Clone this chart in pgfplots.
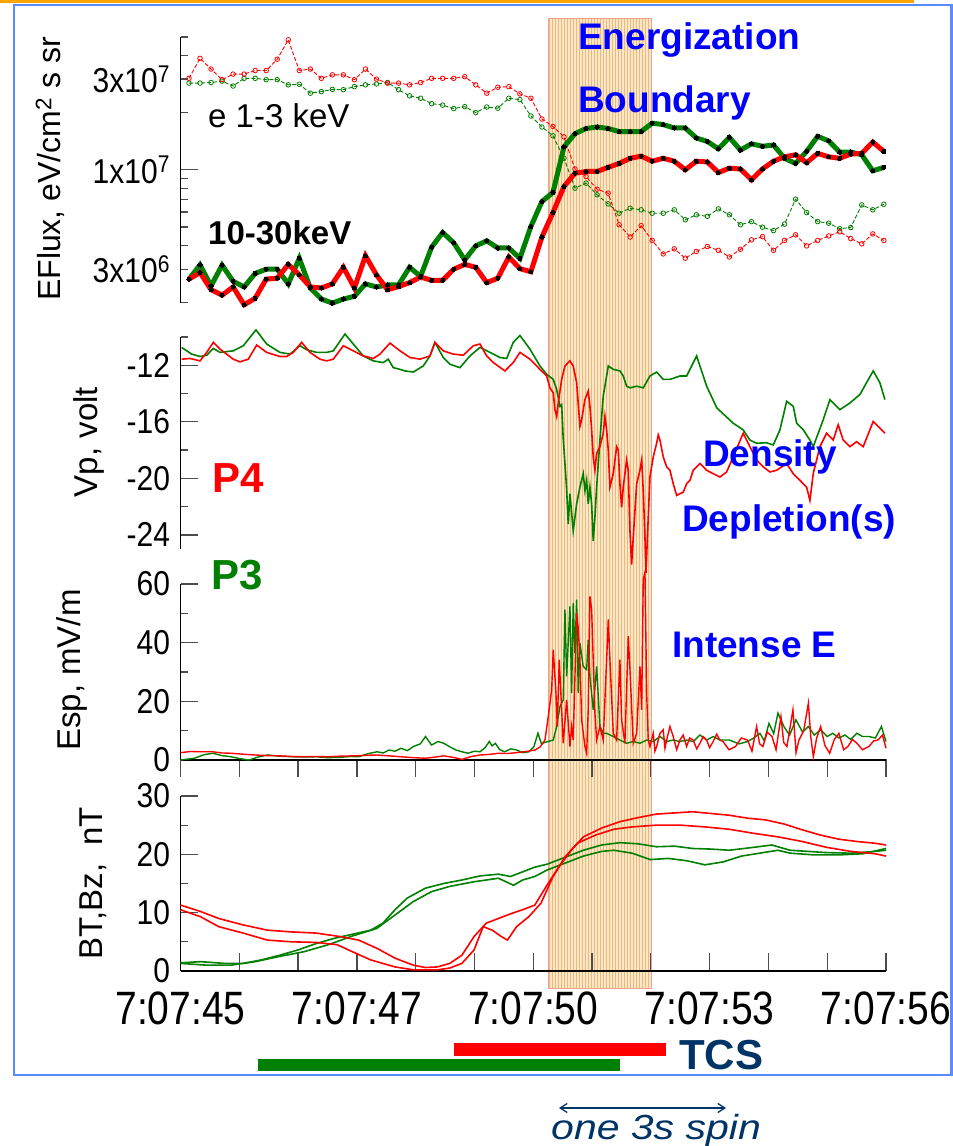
\documentclass[border=0pt]{standalone}
\usepackage{pgfplots}
\pgfplotsset{compat=1.18}
\usepackage{pgfplotstable}
\usepackage{fontspec}
\setmainfont{Liberation Sans}
\usetikzlibrary{arrows.meta,patterns}
\definecolor{pred}{RGB}{255,0,0}
\definecolor{pgreen}{RGB}{0,128,0}
\definecolor{eblue}{RGB}{0,0,255}
\definecolor{navy}{RGB}{0,51,102}
\definecolor{band}{RGB}{250,230,200}
\definecolor{bandline}{RGB}{236,186,120}
\definecolor{bandedge}{RGB}{240,160,140}
\definecolor{frameblue}{RGB}{90,140,255}
\definecolor{frameorange}{RGB}{255,165,0}
\newcommand{\tl}[1]{\scalebox{1}[1.15]{#1}}
\newcommand{\xl}[1]{\scalebox{1}[1.2]{#1}}

% EFlux, 64 samples: 10-30 keV (g1, r1) and 1-3 keV (g2, r2)
\pgfplotstableread{
i g1 r1 g2 r2
0 2.66e6 2.66e6 2.86e7 3.03e7
1 3.16e6 2.88e6 2.86e7 3.86e7
2 2.45e6 2.34e6 2.88e7 3.39e7
3 3.15e6 2.19e6 2.93e7 2.98e7
4 2.59e6 2.42e6 2.76e7 3.19e7
5 2.42e6 1.95e6 3.03e7 3.19e7
6 2.85e6 2.11e6 3.03e7 3.33e7
7 3.00e6 2.66e6 2.98e7 3.33e7
8 3.00e6 2.69e6 2.98e7 3.82e7
9 2.51e6 3.18e6 2.80e7 4.83e7
10 3.42e6 2.80e6 2.82e7 3.33e7
11 2.39e6 2.42e6 2.53e7 3.39e7
12 2.09e6 2.39e6 2.58e7 3.03e7
13 1.99e6 2.51e6 2.65e7 3.16e7
14 2.09e6 3.07e6 2.64e7 3.16e7
15 2.16e6 2.39e6 2.74e7 2.98e7
16 2.51e6 3.53e6 2.80e7 3.39e7
17 2.42e6 2.80e6 2.83e7 3.00e7
18 2.48e6 2.34e6 2.88e7 2.86e7
19 2.48e6 2.43e6 2.64e7 2.86e7
20 3.07e6 2.55e6 2.45e7 2.80e7
21 2.75e6 2.73e6 2.38e7 2.88e7
22 3.92e6 2.62e6 2.23e7 3.03e7
23 4.68e6 2.62e6 2.19e7 3.03e7
24 4.13e6 3.00e6 2.10e7 3.03e7
25 3.36e6 3.18e6 2.15e7 3.09e7
26 3.98e6 3.07e6 2.00e7 2.80e7
27 4.23e6 2.55e6 2.14e7 2.53e7
28 3.88e6 2.69e6 2.11e7 2.72e7
29 3.88e6 3.48e6 2.38e7 2.74e7
30 3.42e6 3.02e6 2.34e7 2.51e7
31 5.03e6 2.91e6 1.92e7 2.38e7
32 6.81e6 4.43e6 1.68e7 1.85e7
33 7.60e6 5.96e6 1.51e7 1.69e7
34 1.32e7 8.17e6 1.15e7 1.49e7
35 1.55e7 9.60e6 8.01e6 1.01e7
36 1.65e7 9.80e6 8.51e6 9.22e6
37 1.68e7 9.80e6 7.39e6 7.91e6
38 1.65e7 1.03e7 6.62e6 7.54e6
39 1.59e7 1.08e7 5.91e6 5.14e6
40 1.59e7 1.15e7 6.28e6 4.43e6
41 1.59e7 1.18e7 6.16e6 5.08e6
42 1.76e7 1.11e7 5.91e6 4.25e6
43 1.73e7 1.15e7 5.91e6 3.61e6
44 1.66e7 1.11e7 6.16e6 3.84e6
45 1.66e7 1.00e7 5.46e6 3.43e6
46 1.47e7 1.11e7 5.80e6 3.72e6
47 1.41e7 1.10e7 5.69e6 3.95e6
48 1.29e7 9.68e6 6.23e6 3.77e6
49 1.48e7 1.02e7 5.80e6 3.48e6
50 1.27e7 1.01e7 5.14e6 3.82e6
51 1.37e7 8.86e6 5.34e6 4.28e6
52 1.33e7 1.01e7 4.99e6 4.45e6
53 1.35e7 1.11e7 4.79e6 3.77e6
54 1.15e7 1.17e7 5.18e6 4.25e6
55 1.08e7 1.20e7 7.01e6 4.55e6
56 1.25e7 1.09e7 5.96e6 3.98e6
57 1.50e7 1.22e7 5.34e6 4.25e6
58 1.42e7 1.17e7 5.24e6 4.49e6
59 1.24e7 1.15e7 4.90e6 4.72e6
60 1.24e7 1.21e7 4.97e6 4.35e6
61 1.20e7 1.22e7 6.54e6 4.08e6
62 9.88e6 1.40e7 6.16e6 4.60e6
63 1.03e7 1.25e7 6.59e6 4.25e6
}\tabflux

\pgfplotstableread{
t v
0.020 -10.74
0.190 -11.21
0.332 -11.38
0.446 -11.29
0.558 -10.81
0.672 -11.09
0.898 -10.98
1.068 -10.62
1.284 -9.50
1.466 -10.50
1.692 -11.09
1.862 -11.21
2.032 -10.62
2.146 -10.90
2.316 -11.09
2.486 -11.09
2.599 -10.98
2.798 -9.79
2.939 -10.50
3.109 -11.34
3.279 -11.69
3.449 -11.81
3.534 -11.57
3.619 -12.17
3.733 -12.29
3.818 -12.40
3.959 -12.48
4.129 -12.05
4.243 -11.34
4.328 -10.38
4.469 -11.45
4.583 -11.93
4.753 -12.17
4.923 -11.34
5.094 -10.74
5.264 -11.09
5.434 -11.45
5.548 -11.52
5.660 -10.38
5.774 -9.90
5.944 -10.86
6.114 -12.05
6.228 -12.64
6.340 -13.00
6.398 -13.71
6.454 -14.90
6.483 -14.79
6.508 -17.05
6.566 -20.62
6.595 -23.24
6.624 -21.09
6.680 -23.71
6.738 -21.81
6.794 -20.62
6.850 -19.67
6.879 -20.86
6.908 -20.14
6.935 -21.81
6.964 -20.62
6.993 -21.81
7.020 -24.43
7.049 -22.76
7.078 -20.62
7.134 -17.29
7.190 -14.19
7.248 -12.76
7.276 -12.05
7.361 -12.29
7.474 -12.40
7.531 -12.76
7.588 -13.48
7.645 -13.60
7.759 -13.48
7.871 -13.60
7.985 -12.76
8.099 -12.48
8.211 -13.00
8.325 -13.00
8.495 -12.76
8.609 -12.76
8.779 -11.34
8.949 -13.48
9.122 -15.02
9.401 -16.10
9.571 -16.57
9.685 -17.29
9.799 -17.52
9.969 -17.48
10.082 -17.64
10.196 -16.57
10.310 -14.55
10.422 -14.90
10.480 -16.10
10.592 -16.57
10.706 -17.29
10.762 -17.76
10.932 -15.86
11.046 -14.43
11.216 -15.14
11.386 -14.67
11.556 -14.07
11.782 -12.40
11.896 -13.24
11.981 -14.43
}\tabvpg

\pgfplotstableread{
t v
0.020 -11.57
0.162 -11.52
0.332 -11.69
0.446 -11.09
0.558 -10.38
0.672 -10.86
0.898 -11.57
1.012 -11.76
1.153 -11.57
1.296 -10.57
1.466 -11.09
1.692 -11.38
1.806 -11.38
1.918 -11.09
2.061 -10.38
2.202 -11.09
2.372 -11.57
2.486 -11.69
2.599 -11.57
2.769 -10.62
2.939 -10.98
3.109 -11.34
3.279 -11.52
3.393 -11.21
3.563 -10.43
3.733 -10.98
3.903 -11.45
4.073 -11.57
4.243 -11.34
4.328 -10.38
4.469 -10.98
4.639 -11.21
4.810 -11.29
4.980 -10.62
5.094 -10.50
5.207 -11.34
5.320 -11.81
5.519 -12.40
5.660 -11.81
5.774 -11.09
5.944 -11.57
6.114 -12.29
6.228 -12.76
6.284 -13.60
6.340 -13.95
6.369 -15.14
6.398 -15.62
6.425 -14.67
6.483 -13.00
6.539 -12.05
6.624 -11.69
6.680 -12.05
6.738 -13.24
6.794 -16.33
6.823 -15.86
6.879 -14.43
6.935 -13.83
6.964 -14.90
6.993 -16.57
7.020 -18.48
7.049 -19.43
7.078 -18.24
7.134 -17.76
7.190 -16.81
7.219 -15.62
7.248 -16.57
7.276 -18.00
7.304 -20.62
7.361 -19.67
7.418 -17.76
7.446 -18.00
7.474 -20.38
7.503 -22.05
7.531 -20.62
7.588 -18.71
7.616 -19.43
7.645 -23.71
7.673 -26.10
7.701 -24.19
7.759 -20.38
7.815 -19.43
7.844 -18.71
7.871 -20.86
7.900 -24.19
7.917 -26.69
7.956 -22.76
7.985 -19.91
8.041 -18.48
8.099 -17.52
8.126 -16.93
8.155 -17.29
8.211 -18.48
8.269 -19.19
8.325 -19.43
8.381 -20.38
8.439 -21.21
8.495 -21.09
8.551 -20.98
8.609 -20.38
8.665 -20.14
8.721 -19.43
8.835 -18.95
8.949 -19.43
9.061 -19.67
9.175 -19.91
9.289 -19.55
9.401 -18.48
9.571 -16.81
9.685 -17.76
9.799 -18.71
9.912 -19.19
10.026 -19.55
10.139 -19.43
10.310 -18.95
10.422 -19.67
10.536 -20.14
10.650 -20.62
10.706 -21.57
10.762 -19.67
10.876 -17.76
10.990 -16.81
11.102 -17.29
11.187 -16.21
11.272 -17.29
11.386 -17.76
11.500 -17.41
11.612 -17.76
11.782 -15.98
11.896 -16.45
11.981 -16.81
}\tabvpr

\pgfplotstableread{
t v
0.000 0.0
0.238 0.6
0.400 1.8
0.549 2.3
0.700 1.5
0.859 1.1
1.000 0.5
1.165 0.0
1.320 1.0
1.480 1.7
1.700 1.3
1.893 1.1
2.100 1.0
2.304 1.1
2.500 0.8
2.713 0.9
2.900 1.2
3.031 1.1
3.200 2.2
3.342 2.8
3.450 2.4
3.546 3.4
3.650 3.0
3.750 4.0
3.860 3.2
3.961 4.6
4.080 5.5
4.167 8.0
4.270 5.1
4.380 6.3
4.478 5.7
4.580 4.5
4.685 3.4
4.790 2.8
4.889 2.3
5.000 3.0
5.094 2.8
5.180 4.2
5.253 6.3
5.300 4.8
5.355 5.7
5.430 3.5
5.512 2.8
5.620 3.8
5.718 3.4
5.820 2.5
5.925 2.8
6.010 4.5
6.080 9.1
6.140 5.5
6.182 5.9
6.340 6.8
6.398 11.4
6.454 18.2
6.510 20.5
6.539 51.3
6.568 28.5
6.624 52.4
6.653 22.8
6.680 53.6
6.709 36.5
6.738 54.7
6.765 22.8
6.794 39.9
6.850 31.9
6.908 30.8
6.935 41.0
6.964 28.5
7.020 17.1
7.078 31.9
7.134 11.4
7.190 9.1
7.248 9.1
7.361 8.0
7.474 6.8
7.588 5.7
7.701 6.3
7.815 5.7
7.929 6.8
8.041 6.3
8.155 8.0
8.269 6.3
8.381 6.8
8.495 6.3
8.609 6.8
8.721 6.3
8.835 8.5
8.949 6.8
9.061 8.0
9.175 6.8
9.337 6.8
9.500 5.5
9.646 6.3
9.750 7.5
9.856 9.1
9.930 6.5
10.009 12.5
10.090 9.0
10.162 16.0
10.264 11.4
10.360 8.5
10.468 13.7
10.580 9.5
10.680 11.4
10.780 8.5
10.888 10.3
11.000 8.0
11.094 9.1
11.200 7.5
11.301 8.5
11.400 7.0
11.505 9.1
11.600 8.0
11.709 8.0
11.820 7.5
11.922 11.4
12.000 6.3
}\tabeg

\pgfplotstableread{
t v
0.000 2.5
0.170 2.9
0.342 2.8
0.549 2.8
0.700 2.4
0.859 2.3
1.050 2.0
1.267 1.7
1.480 1.5
1.692 1.4
1.900 1.2
2.100 1.1
2.300 1.2
2.509 1.1
2.700 1.3
2.927 1.4
3.150 1.6
3.342 1.7
3.550 1.4
3.750 1.1
3.960 0.8
4.167 0.6
4.330 1.0
4.478 1.4
4.640 0.9
4.787 0.2
4.950 1.2
5.094 1.7
5.250 1.9
5.408 2.3
5.560 2.2
5.718 2.5
5.880 2.9
6.029 3.4
6.120 4.5
6.182 6.3
6.199 6.8
6.255 14.8
6.313 23.9
6.340 37.6
6.386 22.8
6.408 11.4
6.442 34.2
6.483 17.1
6.510 5.7
6.568 20.5
6.624 4.6
6.653 11.4
6.680 6.8
6.738 50.1
6.765 45.0
6.794 34.2
6.823 13.7
6.879 4.6
6.908 2.3
6.935 17.1
6.964 55.8
6.993 51.3
7.020 34.2
7.049 16.0
7.078 6.8
7.134 11.4
7.190 6.8
7.248 34.2
7.276 47.9
7.304 34.2
7.361 9.1
7.418 6.8
7.474 34.2
7.503 13.7
7.559 5.7
7.616 42.2
7.645 30.8
7.701 5.7
7.759 9.1
7.815 31.9
7.844 17.1
7.871 61.5
7.900 64.0
7.929 22.8
7.956 6.8
7.985 4.6
8.041 9.1
8.070 3.0
8.099 4.6
8.155 9.1
8.211 10.3
8.240 4.0
8.269 6.8
8.325 11.4
8.381 8.0
8.440 3.5
8.495 6.8
8.550 8.5
8.609 4.6
8.660 7.5
8.721 6.8
8.780 3.8
8.835 5.7
8.890 8.0
8.949 6.8
9.000 4.2
9.061 6.3
9.120 8.8
9.175 6.8
9.226 6.3
9.330 3.5
9.440 4.6
9.540 7.5
9.646 6.8
9.720 3.0
9.799 11.4
9.850 5.5
9.906 4.6
9.980 9.5
10.060 8.0
10.130 3.5
10.213 14.8
10.260 6.0
10.315 4.6
10.417 17.1
10.470 2.5
10.519 6.8
10.600 10.0
10.680 19.4
10.720 8.0
10.764 1.1
10.820 7.5
10.888 11.4
10.960 5.0
11.042 2.3
11.120 7.0
11.199 9.1
11.280 3.5
11.352 4.6
11.430 7.0
11.505 5.7
11.600 3.5
11.709 4.6
11.790 6.5
11.862 6.8
11.940 8.5
12.000 4.0
}\taber

\pgfplotstableread{
t v
0.000 11.3
0.341 10.2
0.651 9.0
1.065 7.9
1.478 7.0
1.892 6.7
2.305 6.5
2.719 5.9
3.029 5.3
3.339 3.9
3.649 2.2
3.959 1.0
4.166 0.6
4.373 0.7
4.579 1.3
4.786 2.7
4.993 5.9
5.200 8.2
5.406 9.0
5.613 9.8
5.820 10.5
6.026 11.3
6.233 14.7
6.440 17.9
6.647 20.7
6.853 23.0
7.163 24.5
7.474 25.6
7.784 26.3
8.094 26.9
8.404 27.1
8.714 27.3
9.024 27.0
9.334 26.7
9.644 26.2
9.955 25.9
10.265 25.2
10.575 24.2
10.885 23.3
11.195 22.6
11.505 22.2
11.815 21.9
12.001 21.6
}\tabbra

\pgfplotstableread{
t v
0.000 10.5
0.341 9.3
0.651 7.6
1.065 6.5
1.478 5.3
1.892 5.0
2.305 4.9
2.667 4.5
2.925 3.3
3.235 1.9
3.649 0.7
3.959 0.2
4.166 0.2
4.373 0.2
4.579 0.5
4.786 1.3
4.993 3.6
5.148 7.6
5.303 7.0
5.458 5.9
5.561 5.3
5.716 7.6
5.923 9.3
6.130 11.6
6.337 16.2
6.543 19.6
6.750 21.9
7.060 23.3
7.370 24.3
7.680 24.7
8.094 25.0
8.507 25.0
8.921 24.7
9.334 24.3
9.748 23.6
10.161 23.0
10.575 22.2
10.988 21.2
11.402 20.5
11.815 20.1
12.001 19.7
}\tabbrb

\pgfplotstableread{
t v
0.000 1.4
0.341 1.6
0.755 1.3
1.065 1.3
1.375 1.9
1.685 2.7
1.995 3.6
2.305 4.7
2.615 5.6
2.925 6.3
3.235 7.0
3.442 8.2
3.649 10.5
3.856 12.5
4.166 14.2
4.476 15.0
4.786 15.6
5.096 16.3
5.406 16.6
5.613 16.2
5.820 17.0
6.026 17.8
6.233 18.3
6.543 19.5
6.853 20.7
7.163 21.6
7.474 22.0
7.784 21.8
8.094 21.3
8.404 21.4
8.714 21.0
9.024 20.9
9.334 20.7
9.748 21.2
10.058 21.6
10.368 20.7
10.678 20.5
10.988 20.3
11.402 20.2
11.815 20.5
12.001 20.7
}\tabbga

\pgfplotstableread{
t v
0.000 1.3
0.444 1.0
0.858 1.0
1.271 1.6
1.685 2.5
2.098 3.3
2.512 4.5
2.925 6.0
3.339 7.3
3.649 9.6
3.959 11.9
4.269 13.6
4.579 14.5
4.993 15.3
5.406 15.9
5.665 14.7
5.820 15.6
6.026 16.2
6.233 17.3
6.543 18.5
6.853 19.7
7.163 20.5
7.370 20.7
7.680 20.2
7.990 19.1
8.300 19.3
8.611 18.9
8.921 18.2
9.231 18.7
9.541 19.7
9.851 20.2
10.161 20.7
10.368 20.2
10.781 19.9
11.195 19.9
11.608 20.1
12.001 21.0
}\tabbgb

\pgfplotsset{
  panel/.style={
    scale only axis, width=705.5pt, xmin=0, xmax=12,
    enlargelimits=false, clip=false,
    axis y line*=left,
    axis line style={black, line width=1.3pt},
    tick align=inside,
    major tick length=18pt, minor tick length=8pt,
    tick style={black!70, line width=1.3pt},
    yticklabel style={font=\fontsize{30}{30}\selectfont, xshift=-7pt},
  },
}

\begin{document}
\begin{tikzpicture}[x=1pt,y=1pt]
\useasboundingbox (0,0) rectangle (953,1146);
\fill[white] (0,0) rectangle (953,1146);
% shaded interval
\fill[band] (548,157.7) rectangle (651,1127.7);
\fill[pattern=vertical lines, pattern color=bandline] (548,157.7) rectangle (651,1127.7);
\draw[bandedge, line width=0.8pt] (548,157.7) rectangle (651,1127.7);

% ---------- Panel 1: EFlux ----------
\begin{axis}[panel, at={(180.5pt,843.3pt)}, anchor=south west, height=265.7pt,
  ymode=log, ymin=2e6, ymax=5e7, axis x line=none,
  ytick={1e7}, yticklabels={{\tl{1x10\textsuperscript{7}}}},
  extra y ticks={3e6,3e7},
  extra y tick labels={{\tl{3x10\textsuperscript{6}}},{\tl{3x10\textsuperscript{7}}}},
  extra y tick style={major tick length=8pt},
  minor ytick={2e6,4e6,5e6,6e6,7e6,8e6,9e6,2e7,4e7,5e7}]
\addplot[pgreen, line width=0.9pt, dash pattern=on 4pt off 2pt, mark=o, mark size=2.3pt, mark options={solid, line width=0.8pt}]
  table[x expr=0.1446+0.18759*\thisrow{i}, y=g2] {\tabflux};
\addplot[pred, line width=0.9pt, dash pattern=on 4pt off 2pt, mark=o, mark size=2.3pt, mark options={solid, line width=0.8pt}]
  table[x expr=0.1446+0.18759*\thisrow{i}, y=r2] {\tabflux};
\addplot[pgreen, line width=5pt, mark=*, mark size=2.1pt, mark options={black, fill=black, line width=0pt}]
  table[x expr=0.1446+0.18759*\thisrow{i}, y=g1] {\tabflux};
\addplot[pred, line width=5pt, mark=*, mark size=2.1pt, mark options={black, fill=black, line width=0pt}]
  table[x expr=0.1446+0.18759*\thisrow{i}, y=r1] {\tabflux};
\end{axis}

% ---------- Panel 2: Vp ----------
\begin{axis}[panel, at={(180.5pt,597pt)}, anchor=south west, height=212pt,
  ymin=-25, ymax=-10, axis x line=none,
  ytick={-24,-20,-16,-12}, yticklabels={\tl{-24},\tl{-20},\tl{-16},\tl{-12}},
  minor ytick={-22,-18,-14,-10}]
\addplot[pgreen, line width=1.6pt] table[x=t, y=v] {\tabvpg};
\addplot[pred, line width=1.6pt] table[x=t, y=v] {\tabvpr};
\end{axis}

% ---------- Panel 3: Esp ----------
\begin{axis}[panel, at={(180.5pt,386pt)}, anchor=south west, height=176pt,
  ymin=0, ymax=60, axis x line*=bottom,
  xtick={0,1,...,12}, xticklabels={},
  x tick style={yshift=-17pt},
  ytick={0,20,40,60}, yticklabels={\tl{0},\tl{20},\tl{40},\tl{60}},
  minor ytick={10,30,50}]
\addplot[pgreen, line width=1.4pt] table[x=t, y=v] {\tabeg};
\addplot[pred, line width=1.4pt] table[x=t, y=v] {\taber};
\end{axis}

% ---------- Panel 4: B ----------
\begin{axis}[panel, at={(180.5pt,175pt)}, anchor=south west, height=175pt,
  ymin=0, ymax=30, axis x line*=bottom,
  xtick={0,1,...,12},
  xticklabels={\xl{7:07:45},,,\xl{7:07:47},,,\xl{7:07:50},,,\xl{7:07:53},,,\xl{7:07:56}},
  xticklabel style={font=\fontsize{39}{39}\selectfont, yshift=-17pt},
  ytick={0,10,20,30}, yticklabels={\tl{0},\tl{10},\tl{20},\tl{30}},
  minor ytick={5,15,25}]
\addplot[pgreen, line width=1.6pt] table[x=t, y=v] {\tabbga};
\addplot[pgreen, line width=1.6pt] table[x=t, y=v] {\tabbgb};
\addplot[pred, line width=1.6pt] table[x=t, y=v] {\tabbra};
\addplot[pred, line width=1.6pt] table[x=t, y=v] {\tabbrb};
\end{axis}

% ---------- axis titles ----------
\node[rotate=90, font=\fontsize{32}{32}\selectfont] at (50,977) {EFlux, eV/cm\textsuperscript{2} s sr};
\node[rotate=90, font=\fontsize{33}{33}\selectfont] at (89,704) {Vp, volt};
\node[rotate=90, font=\fontsize{33}{33}\selectfont] at (72,476) {Esp, mV/m};
\node[rotate=90, font=\fontsize{33}{33}\selectfont] at (93,263) {BT,Bz,\ \ nT};

% ---------- annotations ----------
\node[anchor=base west, inner sep=0pt, text=eblue, font=\bfseries\fontsize{37}{37}\selectfont] at (578,1096) {Energization};
\node[anchor=base west, inner sep=0pt, text=eblue, font=\bfseries\fontsize{37}{37}\selectfont] at (578,1033) {Boundary};
\node[anchor=base west, inner sep=0pt, font=\fontsize{33}{33}\selectfont] at (208,1018) {e 1-3 keV};
\node[anchor=base west, inner sep=0pt, font=\bfseries\fontsize{33}{33}\selectfont] at (208,901) {10-30keV};
\node[anchor=base west, inner sep=0pt, text=pred, font=\bfseries\fontsize{42}{42}\selectfont] at (212,653) {P4};
\node[anchor=base west, inner sep=0pt, text=pgreen, font=\bfseries\fontsize{42}{42}\selectfont] at (211,556) {P3};
\node[anchor=base west, inner sep=0pt, text=eblue, font=\bfseries\fontsize{37}{37}\selectfont] at (703,679) {Density};
\node[anchor=base west, inner sep=0pt, text=eblue, font=\bfseries\fontsize{37}{37}\selectfont] at (682,614) {Depletion(s)};
\node[anchor=base west, inner sep=0pt, text=eblue, font=\bfseries\fontsize{37}{37}\selectfont] at (672,488) {Intense E};

% TCS bars
\fill[pred] (454,90) rectangle (666,103);
\fill[pgreen] (258,75) rectangle (620,87);
\node[anchor=base west, inner sep=0pt, text=navy, font=\bfseries\fontsize{42}{42}\selectfont] at (679,76) {TCS};

% frame
\draw[frameblue, line width=2.5pt] (14,71) rectangle (951.5,1141);
\draw[frameorange, line width=3pt] (0,1144.5) -- (912,1144.5) -- (912,1146);

% spin arrow
\draw[navy, line width=1.3pt, {Straight Barb[length=7pt,width=9pt]}-{Straight Barb[length=7pt,width=9pt]}] (559,38) -- (726,38);
\node[anchor=base west, inner sep=0pt, text=navy, font=\itshape\fontsize{41}{41}\selectfont] at (551,7) {\scalebox{1}[0.85]{one 3s spin}};
\end{tikzpicture}
\end{document}
